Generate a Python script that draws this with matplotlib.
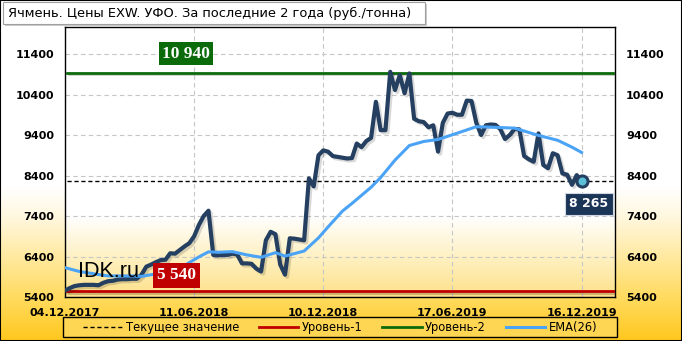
import numpy as np
import matplotlib
matplotlib.use("Agg")
import matplotlib.pyplot as plt
import matplotlib.patheffects as pe
from matplotlib.colors import LinearSegmentedColormap
from matplotlib.patches import Rectangle

# --- данные (руб./тонна), недельные значения ---
price = [5560, 5620, 5670, 5690, 5700, 5700, 5700, 5690, 5750, 5790,
         5800, 5830, 5840, 5840, 5850, 5850, 5950, 6150, 6200, 6260,
         6310, 6320, 6480, 6470, 6560, 6650, 6730, 6900, 7180, 7400,
         7530, 6440, 6430, 6440, 6440, 6470, 6450, 6230, 6230, 6220,
         6100, 6030, 6800, 7010, 6950, 6200, 5950, 6850, 6840, 6820,
         6800, 8330, 8130, 8900, 9020, 8990, 8880, 8860, 8840, 8820,
         8830, 9190, 9100, 9250, 9330, 10220, 9520, 9520, 10960, 10510,
         10880, 10430, 10920, 9800, 9740, 9720, 9590, 9640, 8990, 9700,
         9930, 9950, 9900, 9900, 10250, 10240, 9700, 9400, 9640, 9660,
         9650, 9550, 9300, 9400, 9550, 9540, 8880, 8800, 8740, 9440,
         8660, 8580, 8950, 8900, 8450, 8420, 8170, 8410, 8265]

ema_week = [0, 3, 7, 9, 14, 16, 18, 23, 26, 28, 30, 32, 35, 38, 41, 44, 46, 50,
            53, 55, 58, 60, 64, 66, 69, 72, 75, 78, 82, 86, 90, 94, 99, 103, 106, 108]
ema_val = [6125, 6030, 5955, 5920, 5920, 5910, 5950, 6040, 6250, 6390, 6515, 6505,
           6520, 6440, 6380, 6495, 6410, 6535, 6860, 7130, 7520, 7710, 8110, 8350,
           8780, 9140, 9240, 9290, 9445, 9605, 9590, 9570, 9390, 9270, 9100, 8970]

level_1 = 5540
level_2 = 10940
current = price[-1]

tick_weeks = [0, 27, 54, 81, 108]
tick_dates = ["04.12.2017", "11.06.2018", "10.12.2018", "17.06.2019", "16.12.2019"]
y_ticks = [5400, 6400, 7400, 8400, 9400, 10400, 11400]

title = "Ячмень. Цены EXW. УФО. За последние 2 года (руб./тонна)"

c_price = "#243f60"
c_ema = "#4aa3f5"
c_red = "#c00000"
c_green = "#0b6b0b"

fig = plt.figure(figsize=(6.82, 3.41), dpi=100)

# фон всей картинки: белый -> золотой внизу
bg = fig.add_axes([0, 0, 1, 1], zorder=-5)
bg.axis("off")
cmap_bg = LinearSegmentedColormap.from_list(
    "bg", [(0, "#ffc81e"), (0.12, "#ffda5c"), (0.35, "#fff6d8"), (0.45, "#ffffff"), (1, "#ffffff")])
grad = np.linspace(0, 1, 256).reshape(-1, 1)
bg.imshow(grad, aspect="auto", cmap=cmap_bg, origin="lower", extent=(0, 1, 0, 1))
bg.set_xlim(0, 1)
bg.set_ylim(0, 1)

ax = fig.add_axes([65 / 682, 1 - 297 / 341, 550 / 682, 270 / 341])
ax.set_facecolor("none")
ymin, ymax = 5400, 12067
xmin, xmax = 0, 115
cmap_ax = LinearSegmentedColormap.from_list(
    "ax", [(0, "#fde089"), (0.12, "#feeeb8"), (0.30, "#ffffff"), (1, "#ffffff")])
ax.imshow(grad, aspect="auto", cmap=cmap_ax, origin="lower",
          extent=(xmin, xmax, ymin, ymax), zorder=0)

ax.set_xlim(xmin, xmax)
ax.set_ylim(ymin, ymax)
ax.set_yticks(y_ticks)
ax.set_xticks(tick_weeks)
ax.set_xticklabels(tick_dates)
ax.grid(True, color="#c6c6c6", linestyle=(0, (4, 3)), linewidth=0.8, zorder=1)
ax.tick_params(length=0, labelsize=8, pad=8, labelright=True)
for t in ax.get_xticklabels() + ax.yaxis.get_ticklabels():
    t.set_fontweight("bold")
for s in ax.spines.values():
    s.set_color("black")
    s.set_linewidth(1)

shadow = [pe.SimpleLineShadow(offset=(1.2, -1.2), shadow_color="black", alpha=0.2), pe.Normal()]

ax.axhline(level_1, xmin=0.004, xmax=0.996, color=c_red, lw=2, zorder=3, path_effects=shadow)
ax.axhline(level_2, xmin=0.004, xmax=0.996, color=c_green, lw=2, zorder=3, path_effects=shadow)
ax.axhline(current, xmin=0.004, xmax=0.996, color="black", lw=1, ls=(0, (3, 2)), zorder=3)

weeks = np.arange(len(price))
ax.plot(weeks, price, color=c_price, lw=3, solid_joinstyle="round", solid_capstyle="round",
        zorder=4, path_effects=[pe.SimpleLineShadow(offset=(1.5, -1.5), shadow_color="black", alpha=0.15),
                                pe.Normal()])
ax.plot(ema_week, ema_val, color=c_ema, lw=2.2, zorder=5, solid_joinstyle="round")
ax.plot(weeks[-1], price[-1], "o", ms=8, mfc="#5bbfd8", mec=c_price, mew=2.2, zorder=6)

# подписи уровней
ax.text(25.3, 11410, "10 940", color="white", fontsize=12.5, fontweight="bold",
        family="Liberation Serif", ha="center", va="center", zorder=7,
        bbox=dict(boxstyle="square,pad=0.2", fc=c_green, ec="none"))
ax.text(23.3, 5935, "5 540", color="white", fontsize=12.5, fontweight="bold",
        family="Liberation Serif", ha="center", va="center", zorder=7,
        bbox=dict(boxstyle="square,pad=0.25", fc=c_red, ec="none"))
ax.text(109.5, 7700, "8 265", color="white", fontsize=9, fontweight="bold",
        ha="center", va="center", zorder=7,
        bbox=dict(boxstyle="square,pad=0.35", fc="#1b3557", ec="#cfd8e3", lw=0.8))
ax.text(9, 6020, "IDK.ru", color="black", fontsize=15.5, family="Liberation Sans",
        ha="center", va="center", zorder=7)

# заголовок в рамке
fig.add_artist(Rectangle((5 / 682, 1 - 26 / 341), 422 / 682, 22 / 341, transform=fig.transFigure,
                         fc="#9a9a9a", ec="none", alpha=0.5, zorder=8))
fig.add_artist(Rectangle((3 / 682, 1 - 24 / 341), 422 / 682, 22 / 341, transform=fig.transFigure,
                         fc="white", ec="#a0a0a0", lw=0.8, zorder=9))
fig.text(8 / 682, 1 - 13 / 341, title, fontsize=9.4, ha="left", va="center", zorder=10)

# легенда
h1, = ax.plot([], [], color="black", lw=1, ls=(0, (3, 2)))
h2, = ax.plot([], [], color=c_red, lw=2)
h3, = ax.plot([], [], color=c_green, lw=2)
h4, = ax.plot([], [], color=c_ema, lw=2.2)
leg = fig.legend([h1, h2, h3, h4], ["Текущее значение", "Уровень-1", "Уровень-2", "EMA(26)"],
                 loc="lower left", bbox_to_anchor=(80 / 682, 4 / 341, 520 / 682, 21 / 341),
                 mode="expand", ncol=4, fontsize=8.3, frameon=False,
                 handlelength=3.4, handletextpad=0.3, borderpad=0.25, borderaxespad=0)
fig.add_artist(Rectangle((63 / 682, 4 / 341), 554 / 682, 20 / 341, transform=fig.transFigure,
                         fc="#ffd653", ec="black", lw=1, zorder=1))
leg.set_zorder(2)

# рамка картинки
fig.add_artist(Rectangle((0, 0), 1, 1, transform=fig.transFigure, fill=False,
                         ec="black", lw=1.5, zorder=20))

fig.savefig("out.png", dpi=100)
